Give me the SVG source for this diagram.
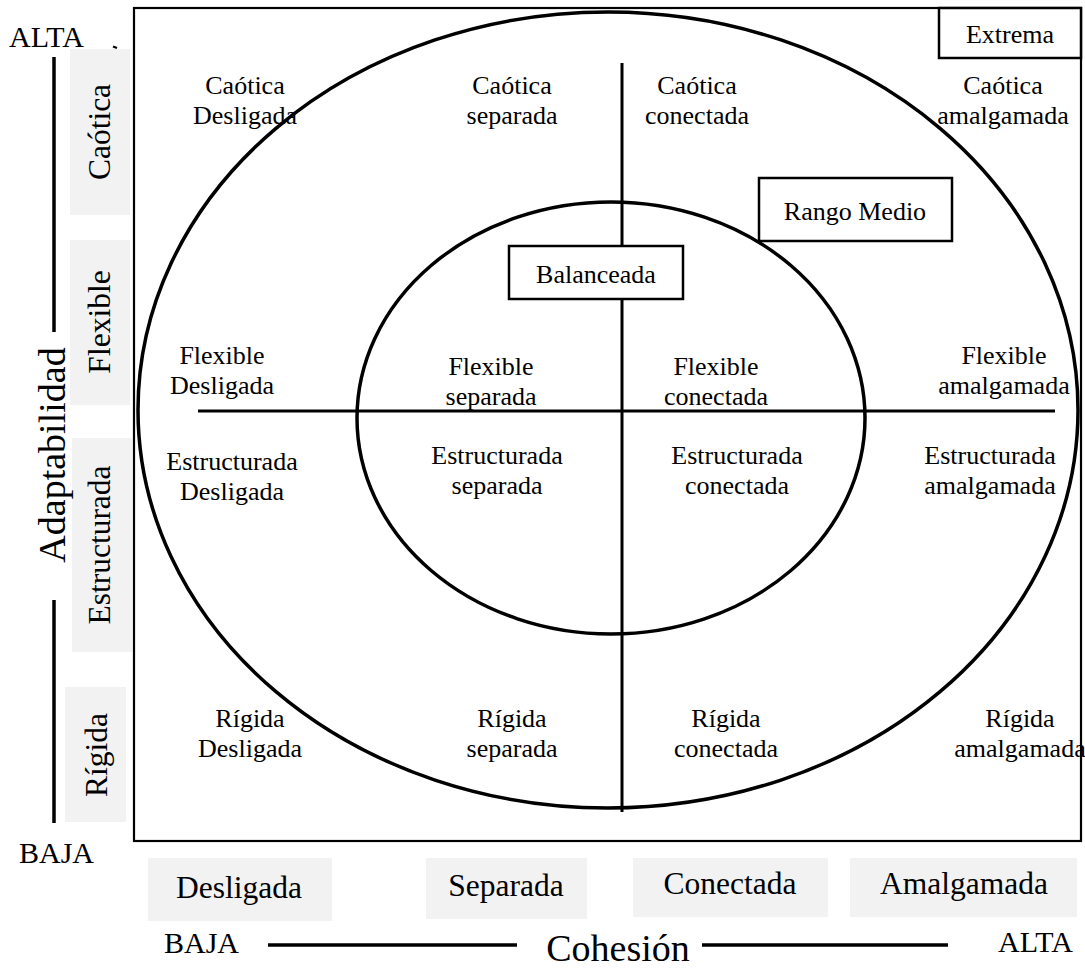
<svg xmlns="http://www.w3.org/2000/svg" width="1085" height="969" viewBox="0 0 1085 969">
<style>
text{font-family:"Liberation Serif","Times New Roman",serif;fill:#000}
.c{font-size:26px;text-anchor:middle}
.lab{font-size:31.5px;text-anchor:middle}
.big{font-size:38px;text-anchor:middle}
.ab{font-size:30px}
.gray{fill:#f2f2f2;stroke:none}
.box{fill:#fff;stroke:#000;stroke-width:2.5}
.ln{stroke:#000;fill:none}
</style>
<rect width="1085" height="969" fill="#fff"/>
<g id="frame"><rect x="134" y="8" width="947" height="833" fill="none" stroke="#000" stroke-width="2.2"/></g>
<g id="left-scale">
<rect class="gray" x="70" y="49" width="60" height="166"/>
<rect class="gray" x="70" y="240" width="60" height="165"/>
<rect class="gray" x="72" y="438" width="60" height="214"/>
<rect class="gray" x="65" y="687" width="61" height="135"/>
<text class="lab" transform="translate(110,132) rotate(-90)">Caótica</text>
<text class="lab" transform="translate(110,322) rotate(-90)">Flexible</text>
<text class="lab" transform="translate(110,545) rotate(-90)">Estructurada</text>
<text class="lab" transform="translate(107,755) rotate(-90)">Rígida</text>
<text class="big" transform="translate(65,455) rotate(-90)">Adaptabilidad</text>
<text class="ab" x="9" y="47">ALTA</text>
<text class="ab" x="19" y="863">BAJA</text>
</g>
<g id="bottom-scale">
<rect class="gray" x="148" y="858" width="184" height="63"/>
<rect class="gray" x="426" y="858" width="161" height="61"/>
<rect class="gray" x="633" y="858" width="195" height="59"/>
<rect class="gray" x="850" y="858" width="227" height="59"/>
<text class="lab" x="239" y="898">Desligada</text>
<text class="lab" x="506" y="896">Separada</text>
<text class="lab" x="730" y="894">Conectada</text>
<text class="lab" x="964" y="894">Amalgamada</text>
<text class="ab" x="164" y="953">BAJA</text>
<text class="big" x="618" y="961">Cohesión</text>
<text class="ab" x="998" y="952">ALTA</text>
</g>
<g id="connectors">
<line class="ln" x1="54" y1="57" x2="54" y2="332" stroke-width="3.5"/>
<line class="ln" x1="54" y1="600" x2="54" y2="823" stroke-width="3.5"/>
<path class="ln" d="M113,46.5 L117,48" stroke-width="2"/>
<line class="ln" x1="268" y1="945" x2="517" y2="945" stroke-width="3.5"/>
<line class="ln" x1="702" y1="945" x2="948" y2="945" stroke-width="3.5"/>
<ellipse class="ln" cx="608" cy="410" rx="470" ry="398" stroke-width="3.5"/>
<ellipse class="ln" cx="611" cy="418" rx="254" ry="216" stroke-width="3.5"/>
<line class="ln" x1="198" y1="411" x2="1055" y2="411" stroke-width="3"/>
<line class="ln" x1="622" y1="63" x2="622" y2="812" stroke-width="3"/>
</g>
<g id="extrema"><rect class="box" x="939" y="8" width="142" height="50"/><text class="c" x="1010" y="43">Extrema</text></g>
<g id="rango-medio"><rect class="box" x="759" y="178" width="193" height="63"/><text class="c" x="855" y="220">Rango Medio</text></g>
<g id="balanceada"><rect class="box" x="509" y="246" width="174" height="53"/><text class="c" x="596" y="283">Balanceada</text></g>
<g id="caotica-desligada"><text class="c" x="245" y="94">Caótica</text><text class="c" x="245" y="124">Desligada</text></g>
<g id="caotica-separada"><text class="c" x="512" y="94">Caótica</text><text class="c" x="512" y="124">separada</text></g>
<g id="caotica-conectada"><text class="c" x="697" y="94">Caótica</text><text class="c" x="697" y="124">conectada</text></g>
<g id="caotica-amalgamada"><text class="c" x="1003" y="94">Caótica</text><text class="c" x="1003" y="124">amalgamada</text></g>
<g id="flexible-desligada"><text class="c" x="222" y="364">Flexible</text><text class="c" x="222" y="394">Desligada</text></g>
<g id="flexible-separada"><text class="c" x="491" y="375">Flexible</text><text class="c" x="491" y="405">separada</text></g>
<g id="flexible-conectada"><text class="c" x="716" y="375">Flexible</text><text class="c" x="716" y="405">conectada</text></g>
<g id="flexible-amalgamada"><text class="c" x="1004" y="364">Flexible</text><text class="c" x="1004" y="394">amalgamada</text></g>
<g id="estructurada-desligada"><text class="c" x="232" y="470">Estructurada</text><text class="c" x="232" y="500">Desligada</text></g>
<g id="estructurada-separada"><text class="c" x="497" y="464">Estructurada</text><text class="c" x="497" y="494">separada</text></g>
<g id="estructurada-conectada"><text class="c" x="737" y="464">Estructurada</text><text class="c" x="737" y="494">conectada</text></g>
<g id="estructurada-amalgamada"><text class="c" x="990" y="464">Estructurada</text><text class="c" x="990" y="494">amalgamada</text></g>
<g id="rigida-desligada"><text class="c" x="250" y="727">Rígida</text><text class="c" x="250" y="757">Desligada</text></g>
<g id="rigida-separada"><text class="c" x="512" y="727">Rígida</text><text class="c" x="512" y="757">separada</text></g>
<g id="rigida-conectada"><text class="c" x="726" y="727">Rígida</text><text class="c" x="726" y="757">conectada</text></g>
<g id="rigida-amalgamada"><text class="c" x="1020" y="727">Rígida</text><text class="c" x="1020" y="757">amalgamada</text></g>
</svg>
